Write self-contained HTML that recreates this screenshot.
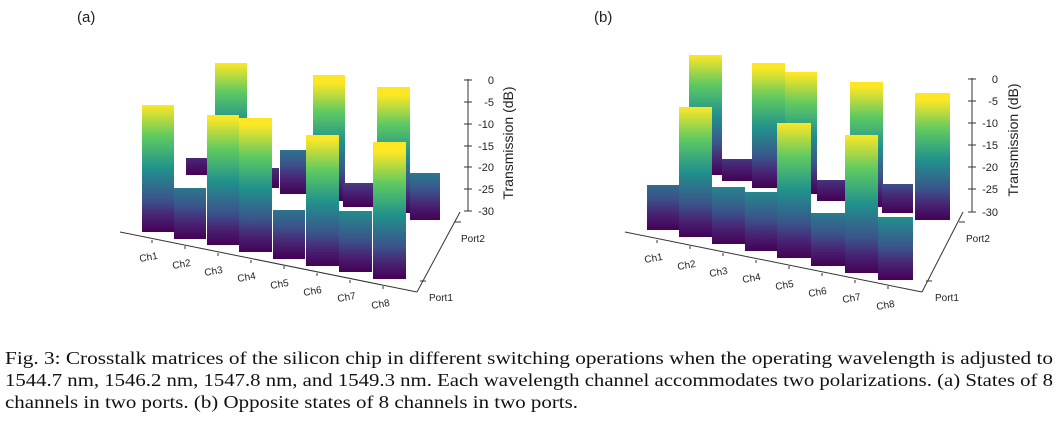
<!DOCTYPE html>
<html><head><meta charset="utf-8"><style>
body{margin:0;background:#fff;width:1058px;height:439px;overflow:hidden}
svg{position:absolute;left:0;top:0}
.s{font-family:"Liberation Sans",sans-serif;fill:#222}
.c{font-family:"Liberation Serif",serif;font-size:18px;fill:#111}
</style></head><body>
<svg width="1058" height="439" viewBox="0 0 1058 439">
<defs>
<linearGradient id="v" x1="0" x2="0" y1="1" y2="0">
<stop offset="0" stop-color="#440154"/><stop offset="0.13" stop-color="#482475"/><stop offset="0.25" stop-color="#3b528b"/><stop offset="0.5" stop-color="#21918c"/><stop offset="0.75" stop-color="#5ec962"/><stop offset="1" stop-color="#fde725"/>
</linearGradient>
<linearGradient id="ab0" href="#v" gradientUnits="userSpaceOnUse" x1="0" x2="0" y1="175" y2="57"/>
<linearGradient id="ab1" href="#v" gradientUnits="userSpaceOnUse" x1="0" x2="0" y1="181" y2="63"/>
<linearGradient id="ab2" href="#v" gradientUnits="userSpaceOnUse" x1="0" x2="0" y1="188" y2="70"/>
<linearGradient id="ab3" href="#v" gradientUnits="userSpaceOnUse" x1="0" x2="0" y1="194" y2="76"/>
<linearGradient id="ab4" href="#v" gradientUnits="userSpaceOnUse" x1="0" x2="0" y1="201" y2="83"/>
<linearGradient id="ab5" href="#v" gradientUnits="userSpaceOnUse" x1="0" x2="0" y1="207" y2="89"/>
<linearGradient id="ab6" href="#v" gradientUnits="userSpaceOnUse" x1="0" x2="0" y1="213" y2="95"/>
<linearGradient id="ab7" href="#v" gradientUnits="userSpaceOnUse" x1="0" x2="0" y1="220" y2="102"/>
<linearGradient id="af0" href="#v" gradientUnits="userSpaceOnUse" x1="0" x2="0" y1="232" y2="105"/>
<linearGradient id="af1" href="#v" gradientUnits="userSpaceOnUse" x1="0" x2="0" y1="239" y2="112"/>
<linearGradient id="af2" href="#v" gradientUnits="userSpaceOnUse" x1="0" x2="0" y1="245" y2="118"/>
<linearGradient id="af3" href="#v" gradientUnits="userSpaceOnUse" x1="0" x2="0" y1="252" y2="125"/>
<linearGradient id="af4" href="#v" gradientUnits="userSpaceOnUse" x1="0" x2="0" y1="259" y2="132"/>
<linearGradient id="af5" href="#v" gradientUnits="userSpaceOnUse" x1="0" x2="0" y1="266" y2="139"/>
<linearGradient id="af6" href="#v" gradientUnits="userSpaceOnUse" x1="0" x2="0" y1="272" y2="145"/>
<linearGradient id="af7" href="#v" gradientUnits="userSpaceOnUse" x1="0" x2="0" y1="279" y2="152"/>
<linearGradient id="bb0" href="#v" gradientUnits="userSpaceOnUse" x1="0" x2="0" y1="175" y2="55"/>
<linearGradient id="bb1" href="#v" gradientUnits="userSpaceOnUse" x1="0" x2="0" y1="181" y2="61"/>
<linearGradient id="bb2" href="#v" gradientUnits="userSpaceOnUse" x1="0" x2="0" y1="188" y2="68"/>
<linearGradient id="bb3" href="#v" gradientUnits="userSpaceOnUse" x1="0" x2="0" y1="194" y2="74"/>
<linearGradient id="bb4" href="#v" gradientUnits="userSpaceOnUse" x1="0" x2="0" y1="201" y2="81"/>
<linearGradient id="bb5" href="#v" gradientUnits="userSpaceOnUse" x1="0" x2="0" y1="207" y2="87"/>
<linearGradient id="bb6" href="#v" gradientUnits="userSpaceOnUse" x1="0" x2="0" y1="213" y2="93"/>
<linearGradient id="bb7" href="#v" gradientUnits="userSpaceOnUse" x1="0" x2="0" y1="220" y2="100"/>
<linearGradient id="bf0" href="#v" gradientUnits="userSpaceOnUse" x1="0" x2="0" y1="230" y2="103"/>
<linearGradient id="bf1" href="#v" gradientUnits="userSpaceOnUse" x1="0" x2="0" y1="237" y2="107"/>
<linearGradient id="bf2" href="#v" gradientUnits="userSpaceOnUse" x1="0" x2="0" y1="244" y2="117"/>
<linearGradient id="bf3" href="#v" gradientUnits="userSpaceOnUse" x1="0" x2="0" y1="251" y2="124"/>
<linearGradient id="bf4" href="#v" gradientUnits="userSpaceOnUse" x1="0" x2="0" y1="258" y2="123"/>
<linearGradient id="bf5" href="#v" gradientUnits="userSpaceOnUse" x1="0" x2="0" y1="266" y2="139"/>
<linearGradient id="bf6" href="#v" gradientUnits="userSpaceOnUse" x1="0" x2="0" y1="273" y2="135"/>
<linearGradient id="bf7" href="#v" gradientUnits="userSpaceOnUse" x1="0" x2="0" y1="280" y2="153"/>
</defs>

<text class="s" x="77" y="22" font-size="15">(a)</text>
<text class="s" x="594" y="22" font-size="15">(b)</text>

<g>
<rect x="186" y="158" width="31" height="17" fill="url(#ab0)"/>
<rect x="215" y="63" width="32" height="118" fill="url(#ab1)"/>
<rect x="247" y="168" width="32" height="20" fill="url(#ab2)"/>
<rect x="280" y="150" width="31" height="44" fill="url(#ab3)"/>
<rect x="313" y="75" width="32" height="126" fill="url(#ab4)"/>
<rect x="343" y="183" width="31" height="24" fill="url(#ab5)"/>
<rect x="377" y="87" width="33" height="126" fill="url(#ab6)"/>
<rect x="410" y="173" width="30" height="47" fill="url(#ab7)"/>

<rect x="142" y="105" width="32" height="127" fill="url(#af0)"/>
<rect x="174" y="188" width="32" height="51" fill="url(#af1)"/>
<rect x="207" y="115" width="32" height="130" fill="url(#af2)"/>
<rect x="239" y="118" width="33" height="134" fill="url(#af3)"/>
<rect x="273" y="210" width="32" height="49" fill="url(#af4)"/>
<rect x="306" y="135" width="33" height="131" fill="url(#af5)"/>
<rect x="339" y="211" width="33" height="61" fill="url(#af6)"/>
<rect x="373" y="142" width="33" height="137" fill="url(#af7)"/>

<g stroke="#333" stroke-width="1" fill="none">
<line x1="120" y1="232" x2="417" y2="292"/>
<line x1="417" y1="292" x2="460" y2="212"/>
<line x1="468" y1="79" x2="468" y2="211"/>
<path d="M152,240v3 M185,246v3 M218,253v3 M251,260v3 M284,266v3 M317,273v3 M350,280v3 M383,286v3"/>
<path d="M420,281h6 M455,222h6"/>
<path d="M464,80h8 M464,102h8 M464,124h8 M464,146h8 M464,167h8 M464,189h8 M464,211h8"/>
</g>
<g class="s" font-size="11" text-anchor="end">
<text x="494" y="84">0</text><text x="494" y="106">-5</text><text x="494" y="128">-10</text><text x="494" y="150">-15</text><text x="494" y="171">-20</text><text x="494" y="193">-25</text><text x="494" y="215">-30</text>
</g>
<text class="s" font-size="14" transform="translate(513,143) rotate(-90)" text-anchor="middle">Transmission (dB)</text>
<g class="s" font-size="10">
<text transform="translate(140,262) rotate(-10)">Ch1</text>
<text transform="translate(173,269) rotate(-10)">Ch2</text>
<text transform="translate(205,276) rotate(-10)">Ch3</text>
<text transform="translate(238,282) rotate(-10)">Ch4</text>
<text transform="translate(271,289) rotate(-10)">Ch5</text>
<text transform="translate(304,296) rotate(-10)">Ch6</text>
<text transform="translate(338,302) rotate(-10)">Ch7</text>
<text transform="translate(372,309) rotate(-10)">Ch8</text>
<text x="429" y="301">Port1</text>
<text x="461" y="242">Port2</text>
</g>
</g>

<g>
<rect x="689" y="55" width="33" height="120" fill="url(#bb0)"/>
<rect x="722" y="159" width="31" height="22" fill="url(#bb1)"/>
<rect x="752" y="63" width="33" height="125" fill="url(#bb2)"/>
<rect x="785" y="72" width="32" height="122" fill="url(#bb3)"/>
<rect x="817" y="180" width="28" height="21" fill="url(#bb4)"/>
<rect x="850" y="82" width="33" height="125" fill="url(#bb5)"/>
<rect x="882" y="184" width="31" height="29" fill="url(#bb6)"/>
<rect x="915" y="93" width="35" height="127" fill="url(#bb7)"/>

<rect x="647" y="185" width="32" height="45" fill="url(#bf0)"/>
<rect x="679" y="107" width="33" height="130" fill="url(#bf1)"/>
<rect x="712" y="187" width="33" height="57" fill="url(#bf2)"/>
<rect x="745" y="192" width="32" height="59" fill="url(#bf3)"/>
<rect x="777" y="123" width="34" height="135" fill="url(#bf4)"/>
<rect x="811" y="213" width="34" height="53" fill="url(#bf5)"/>
<rect x="845" y="135" width="33" height="138" fill="url(#bf6)"/>
<rect x="878" y="217" width="35" height="63" fill="url(#bf7)"/>

<g stroke="#333" stroke-width="1" fill="none">
<line x1="625" y1="232" x2="922" y2="292"/>
<line x1="922" y1="292" x2="963" y2="212"/>
<line x1="972" y1="78" x2="972" y2="212"/>
<path d="M657,240v3 M690,246v3 M723,253v3 M756,260v3 M789,266v3 M822,273v3 M855,280v3 M888,286v3"/>
<path d="M926,281h6 M959,222h6"/>
<path d="M968,79h8 M968,101h8 M968,123h8 M968,145h8 M968,167h8 M968,189h8 M968,212h8"/>
</g>
<g class="s" font-size="11" text-anchor="end">
<text x="998" y="83">0</text><text x="998" y="105">-5</text><text x="998" y="127">-10</text><text x="998" y="149">-15</text><text x="998" y="171">-20</text><text x="998" y="193">-25</text><text x="998" y="216">-30</text>
</g>
<text class="s" font-size="14" transform="translate(1018,140) rotate(-90)" text-anchor="middle">Transmission (dB)</text>
<g class="s" font-size="10">
<text transform="translate(645,263) rotate(-10)">Ch1</text>
<text transform="translate(678,270) rotate(-10)">Ch2</text>
<text transform="translate(710,277) rotate(-10)">Ch3</text>
<text transform="translate(743,283) rotate(-10)">Ch4</text>
<text transform="translate(776,290) rotate(-10)">Ch5</text>
<text transform="translate(809,297) rotate(-10)">Ch6</text>
<text transform="translate(843,303) rotate(-10)">Ch7</text>
<text transform="translate(877,310) rotate(-10)">Ch8</text>
<text x="935" y="301">Port1</text>
<text x="966" y="242">Port2</text>
</g>
</g>

<text class="c" x="5" y="364" textLength="1048" lengthAdjust="spacingAndGlyphs">Fig. 3: Crosstalk matrices of the silicon chip in different switching operations when the operating wavelength is adjusted to</text>
<text class="c" x="5" y="386" textLength="1048" lengthAdjust="spacingAndGlyphs">1544.7 nm, 1546.2 nm, 1547.8 nm, and 1549.3 nm. Each wavelength channel accommodates two polarizations. (a) States of 8</text>
<text class="c" x="5" y="408" textLength="573" lengthAdjust="spacingAndGlyphs">channels in two ports. (b) Opposite states of 8 channels in two ports.</text>
</svg>
</body></html>
